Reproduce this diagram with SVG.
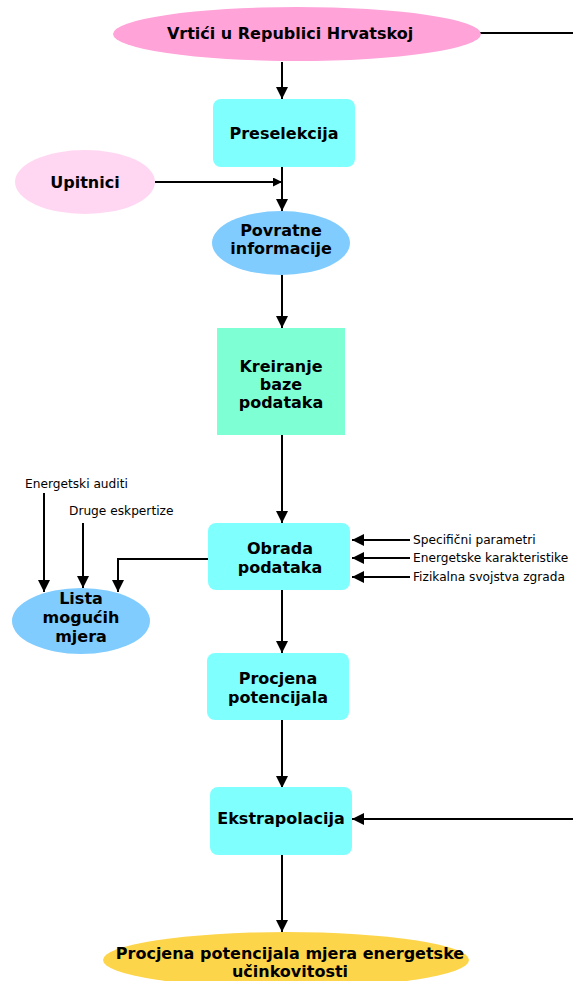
<svg xmlns="http://www.w3.org/2000/svg" width="573" height="981" viewBox="0 0 573 981">
<defs>
<marker id="ah" markerWidth="12" markerHeight="12" viewBox="0 0 12 12" refX="12" refY="6" orient="auto" markerUnits="userSpaceOnUse">
<path d="M0,0 L12,6 L0,12 Z" fill="#000"/>
</marker>
<marker id="ahs" markerWidth="9" markerHeight="9" viewBox="0 0 9 9" refX="9" refY="4.5" orient="auto" markerUnits="userSpaceOnUse">
<path d="M0,0 L9,4.5 L0,9 Z" fill="#000"/>
</marker>
<style>
.t{font-family:"DejaVu Sans",Verdana,sans-serif;font-weight:bold;font-size:16px;fill:#000;text-anchor:middle}
.s{font-family:"DejaVu Sans",Verdana,sans-serif;font-size:12.2px;fill:#000}
.c{fill:none;stroke:#000;stroke-width:2}
.box{fill:#80ffff}
</style>
</defs>
<rect width="573" height="981" fill="#fff"/>
<g id="connectors">
<path class="c" d="M282,62 V99" marker-end="url(#ah)"/>
<path class="c" d="M480,33 H573"/>
<path class="c" d="M155,182 H282" marker-end="url(#ahs)"/>
<path class="c" d="M282,167 V211" marker-end="url(#ah)"/>
<path class="c" d="M282,275 V328" marker-end="url(#ah)"/>
<path class="c" d="M282,435 V523" marker-end="url(#ah)"/>
<path class="c" d="M410,540 H352" marker-end="url(#ah)"/>
<path class="c" d="M410,558 H352" marker-end="url(#ah)"/>
<path class="c" d="M410,577 H352" marker-end="url(#ah)"/>
<path class="c" d="M208,559 H118 V592" marker-end="url(#ah)"/>
<path class="c" d="M44,493 V592" marker-end="url(#ah)"/>
<path class="c" d="M83,523 V588" marker-end="url(#ah)"/>
<path class="c" d="M282,590 V653" marker-end="url(#ah)"/>
<path class="c" d="M282,720 V788" marker-end="url(#ah)"/>
<path class="c" d="M573,819 H352" marker-end="url(#ah)"/>
<path class="c" d="M282,855 V932" marker-end="url(#ah)"/>
</g>
<g id="vrtici">
<ellipse cx="297" cy="34" rx="184" ry="27" fill="#ffa3d9"/>
<text class="t" x="290" y="39">Vrtići u Republici Hrvatskoj</text>
</g>
<g id="preselekcija">
<rect class="box" x="213" y="99" width="142" height="68" rx="8"/>
<text class="t" x="284" y="139">Preselekcija</text>
</g>
<g id="upitnici">
<ellipse cx="85" cy="182" rx="70" ry="32" fill="#ffd7f2"/>
<text class="t" x="85" y="188">Upitnici</text>
</g>
<g id="povratne">
<ellipse cx="281" cy="243" rx="69" ry="32" fill="#80ccff"/>
<text class="t" x="281" y="236">Povratne</text>
<text class="t" x="281" y="254">informacije</text>
</g>
<g id="kreiranje">
<rect x="217" y="328" width="128" height="107" fill="#7fffd4"/>
<text class="t" x="281" y="372">Kreiranje</text>
<text class="t" x="281" y="390">baze</text>
<text class="t" x="281" y="408">podataka</text>
</g>
<g id="obrada">
<rect class="box" x="208" y="523" width="142" height="67" rx="8"/>
<text class="t" x="280" y="554">Obrada</text>
<text class="t" x="280" y="573">podataka</text>
</g>
<g id="inputs-right">
<text class="s" x="413" y="544">Specifični parametri</text>
<text class="s" x="413" y="562">Energetske karakteristike</text>
<text class="s" x="413" y="581">Fizikalna svojstva zgrada</text>
</g>
<g id="inputs-left">
<text class="s" x="25" y="488">Energetski auditi</text>
<text class="s" x="69" y="515">Druge eskpertize</text>
</g>
<g id="lista">
<ellipse cx="81" cy="621" rx="69" ry="33" fill="#80ccff"/>
<text class="t" x="81" y="604">Lista</text>
<text class="t" x="81" y="623">mogućih</text>
<text class="t" x="81" y="642">mjera</text>
</g>
<g id="procjena">
<rect class="box" x="207" y="653" width="142" height="67" rx="8"/>
<text class="t" x="278" y="684">Procjena</text>
<text class="t" x="278" y="703">potencijala</text>
</g>
<g id="ekstrapolacija">
<rect class="box" x="210" y="787" width="142" height="68" rx="8"/>
<text class="t" x="281" y="824">Ekstrapolacija</text>
</g>
<g id="rezultat">
<ellipse cx="286" cy="960" rx="183" ry="28" fill="#fdd54b"/>
<text class="t" x="290" y="959">Procjena potencijala mjera energetske</text>
<text class="t" x="290" y="977">učinkovitosti</text>
</g>
</svg>
